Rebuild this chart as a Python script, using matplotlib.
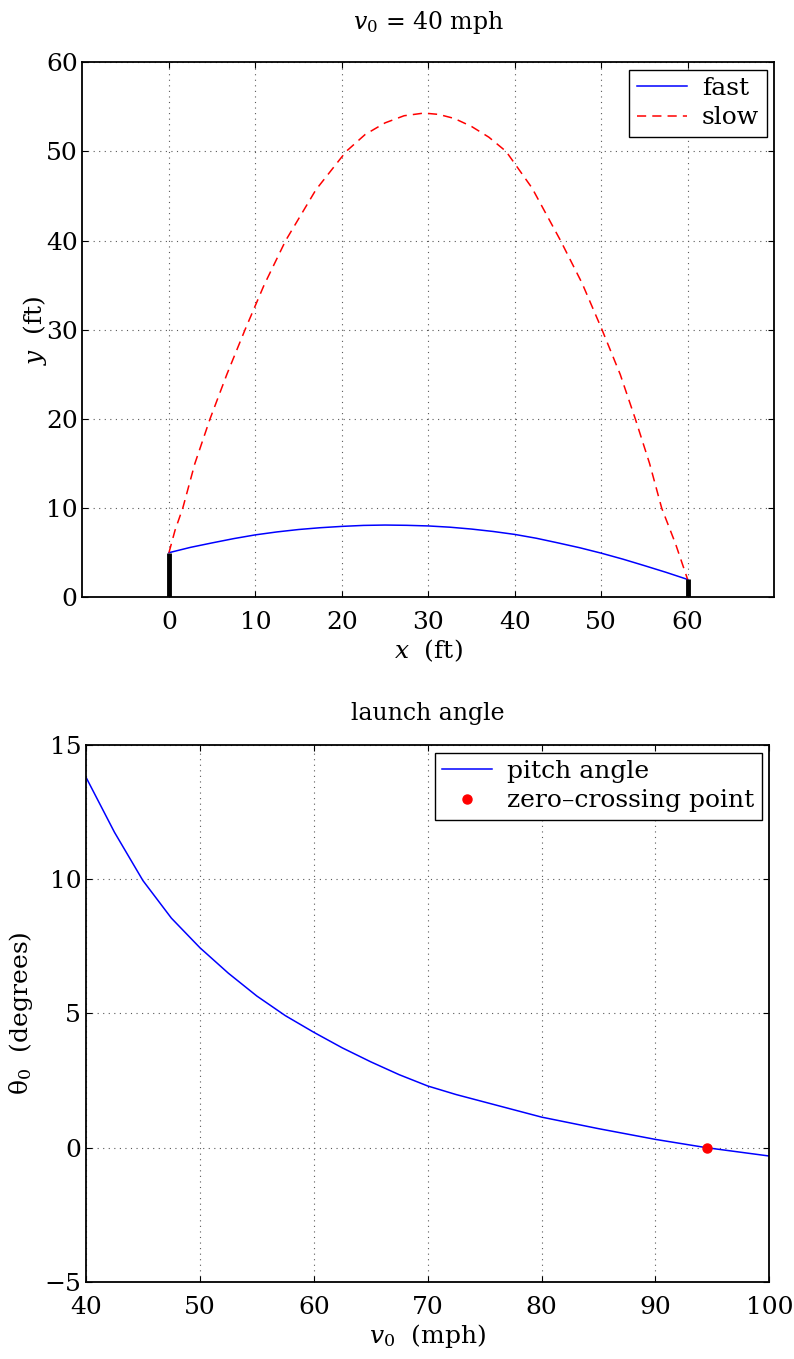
import numpy as np
import matplotlib
matplotlib.use('agg')
import matplotlib.pyplot as plt

# trajectories (ft)
x_fast = [0, 2.5, 5, 7.5, 10, 12.5, 15, 17.5, 20, 22.5, 25, 27.5, 30, 32.5, 35, 37.5, 40, 42.5, 45, 47.5, 50, 52.5, 55, 57.5, 60]
y_fast = [5.0, 5.6, 6.1, 6.58, 7.0, 7.33, 7.6, 7.8, 7.95, 8.06, 8.1, 8.07, 8.0, 7.86, 7.65, 7.38, 7.05, 6.62, 6.1, 5.56, 4.95, 4.28, 3.55, 2.8, 2.0]

x_slow = [0, 0.7, 1.6, 3.0, 4.75, 6.7, 8.8, 11.0, 13.5, 17.0, 20.5, 22.7, 25.0, 27.2, 29.5, 31.2, 33.0, 35.0, 37.0, 39.0, 42.0, 45.3, 47.8, 50.1, 52.2, 53.95, 55.6, 57.0, 58.6, 60]
y_slow = [5.0, 7.5, 10.0, 15.0, 20.0, 25.0, 30.0, 35.0, 40.0, 45.7, 50.0, 51.9, 53.2, 54.0, 54.3, 54.15, 53.7, 52.8, 51.6, 50.0, 45.9, 40.0, 35.2, 30.0, 25.0, 20.0, 15.0, 10.0, 6.0, 2.0]

# pitcher's mound / home plate posts
post_x = [0, 60]
post_h = [5, 2]

# launch angle vs speed
v0 = [40, 42.5, 45, 47.5, 50, 52.5, 55, 57.5, 60, 62.5, 65, 67.5, 70, 72.5, 75, 80, 85, 90, 94.5, 100]
theta0 = [13.8, 11.75, 9.95, 8.55, 7.45, 6.5, 5.65, 4.92, 4.3, 3.72, 3.2, 2.72, 2.3, 1.98, 1.7, 1.14, 0.71, 0.31, 0.0, -0.31]
v_zero = 94.5
th_zero = 0.0

plt.rcParams['font.family'] = 'DejaVu Serif'
plt.rcParams['mathtext.fontset'] = 'dejavuserif'
plt.rcParams['font.size'] = 18
plt.rcParams['axes.linewidth'] = 1.3
plt.rcParams['xtick.direction'] = 'in'
plt.rcParams['ytick.direction'] = 'in'
plt.rcParams['xtick.top'] = True
plt.rcParams['ytick.right'] = True
plt.rcParams['xtick.major.size'] = 4
plt.rcParams['ytick.major.size'] = 4
plt.rcParams['xtick.major.pad'] = 10
plt.rcParams['legend.fancybox'] = False
plt.rcParams['legend.edgecolor'] = 'black'
plt.rcParams['legend.framealpha'] = 1

fig = plt.figure(figsize=(7.94, 13.59), dpi=100)
ax1 = fig.add_axes([0.1039, 0.5605, 0.871, 0.3937])
ax2 = fig.add_axes([0.1083, 0.0567, 0.8606, 0.3951])

ax1.plot(x_fast, y_fast, 'b-', lw=1.1, label='fast')
ax1.plot(x_slow, y_slow, 'r', lw=1.1, linestyle=(0, (6, 4)), label='slow')
for px, ph in zip(post_x, post_h):
    ax1.plot([px, px], [0, ph], 'k-', lw=3.5, solid_capstyle='butt')
ax1.set_xlim(-10, 70)
ax1.set_ylim(0, 60)
ax1.set_xticks([0, 10, 20, 30, 40, 50, 60])
ax1.set_yticks([0, 10, 20, 30, 40, 50, 60])
ax1.grid(True, linestyle=(0, (1, 4)), color='0.35', lw=0.8)
ax1.set_xlabel(r'$x$  (ft)', labelpad=2)
ax1.set_ylabel(r'$y$  (ft)', labelpad=-2)
ax1.set_title(r'$v_0$ = 40 mph', fontsize=17, pad=24)
ax1.legend(loc='upper right', borderaxespad=0.3, handlelength=2.0, borderpad=0.3,
           labelspacing=0.25, handletextpad=0.6)

ax2.plot(v0, theta0, 'b-', lw=1.1, label='pitch angle')
ax2.plot([v_zero], [th_zero], 'r.', ms=13, label='zero\u2013crossing point')
ax2.set_xlim(40, 100)
ax2.set_ylim(-5, 15)
ax2.set_xticks([40, 50, 60, 70, 80, 90, 100])
ax2.set_yticks([-5, 0, 5, 10, 15])
ax2.grid(True, linestyle=(0, (1, 4)), color='0.35', lw=0.8)
ax2.set_xlabel(r'$v_0$  (mph)', labelpad=2)
ax2.set_ylabel(r'$\mathrm{\theta}_0$  (degrees)', labelpad=7)
ax2.set_title('launch angle', fontsize=17, pad=18)
ax2.legend(loc='upper right', borderaxespad=0.3, handlelength=2.0, borderpad=0.3,
           labelspacing=0.25, handletextpad=0.6)

fig.savefig('out.png', dpi=100)
